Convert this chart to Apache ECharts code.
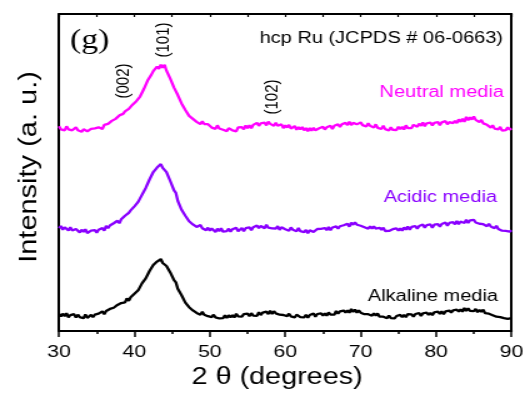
<!DOCTYPE html>
<html>
<head>
<meta charset="utf-8">
<script src="https://cdn.jsdelivr.net/npm/echarts@6/dist/echarts.min.js"></script>
<style>
  html, body { margin: 0; padding: 0; background: #fff; overflow: hidden; }
  /* the figure is laid out narrow and stretched sideways, like the published panel */
  #chart { width: 422.4px; height: 394px; transform: scaleX(1.25); transform-origin: 0 0; }
</style>
</head>
<body>
<div id="chart"></div>
<script>
// XRD patterns of hcp Ru after testing in three electrolytes (offset stacked, a.u.)
// one value every 0.25 degree of 2-theta, from 30 to 90
const angleStart = 30;
const angleStep = 0.25;

const neutral = [
  206, 203, 204.5, 202, 206, 203, 204.5, 202, 203.5, 205,
  202, 203.8, 200.5, 203, 204, 201, 200, 203.5, 202, 204,
  202, 205, 203.5, 203.3, 207.5, 205.5, 208.5, 206.8, 211.5, 211.2,
  213.5, 212.3, 217, 215.5, 218.5, 221, 219, 223.5, 223.5, 227.8,
  226.5, 231.3, 230.5, 236, 236, 243.5, 245.5, 252, 253, 258,
  261.5, 261, 266, 263.7, 268, 265, 268, 262, 261, 254,
  252, 245, 244, 237.5, 236.5, 229, 228, 222.5, 222, 216.5,
  216.5, 213.5, 215, 210.5, 212, 208.2, 211, 208.3, 206.5, 208.2,
  208, 204.7, 206.5, 203.5, 207, 203.8, 205.5, 202.5, 204, 201.2,
  204, 205.2, 202, 203.7, 201, 205, 203.5, 205.2, 203, 206.8,
  204, 207, 204, 207.5, 206.5, 209.5, 206.5, 209, 207, 209.7,
  207, 210.8, 208.5, 209.8, 206.5, 209.5, 206.5, 207.5, 208, 204.2,
  207, 204.8, 207.5, 203.7, 205, 206.3, 202.5, 205.2, 203, 205.3,
  202, 204.2, 201, 204.3, 201.5, 204.5, 202, 201.3, 204, 202.2,
  205.5, 202.8, 205, 203, 206.5, 203.2, 206.5, 205.3, 208, 205.5,
  208, 206, 209.5, 207.2, 210.5, 207.3, 209.5, 210.5, 208, 206.8,
  210, 207.2, 209, 205.8, 209, 206.5, 207.5, 204.7, 208, 204.5,
  206, 203.3, 206.5, 203.2, 204, 201.8, 205, 202.5, 204.5, 202.3,
  205.5, 203.2, 205.5, 202.8, 207, 204.2, 206, 204.3, 207.5, 206,
  205.5, 208.7, 206.5, 209.8, 206, 209, 207.5, 209.7, 207, 209.5,
  207.5, 210.3, 207, 210, 208.5, 211.2, 208, 210.3, 211.5, 209.2,
  211.5, 209.3, 213, 210.5, 213.5, 210.5, 215.5, 212.2, 215, 212.8,
  216, 212.5, 214.5, 210.2, 212.5, 209, 210.5, 207.5, 209, 204.8,
  207, 203.7, 205.5, 203, 205.5, 201.7, 203.5, 202.2, 205, 202.8,
  204
];

const acidic = [
  103.5, 105.7, 102, 104.5, 103.5, 101.3, 104.5, 101.2, 99.5, 102.8,
  103, 99.2, 102, 99.8, 102.5, 98.7, 97.5, 101, 99.5, 101.5,
  99, 102, 100.5, 103.7, 101, 105.8, 103.5, 106.2, 105.5, 108.5,
  107, 111, 108.5, 112.5, 112.5, 116, 114, 119, 121.5, 121,
  125.5, 125.5, 130, 130, 137, 138, 144, 145.5, 152.5, 153.5,
  160, 159, 164.5, 163.5, 168, 164.2, 166, 160, 159, 151,
  149.5, 141.5, 139, 131, 129, 122, 121.5, 116, 115, 110.5,
  111, 107.3, 109, 104.8, 106.5, 106.7, 103.5, 105, 101.5, 104,
  101, 103.2, 101.5, 99.8, 103, 100.5, 103.5, 100, 102, 100.5,
  103, 100, 102.5, 100.8, 104, 100.5, 101.5, 103.7, 100.5, 103.5,
  101.5, 104.3, 101.5, 104.5, 103.5, 106.2, 103.5, 105.8, 106.5, 103.5,
  107, 104, 106, 103.3, 105, 103.2, 105.5, 101.8, 104.5, 103,
  102.5, 104.2, 101, 104.3, 102, 103.2, 100.5, 103.8, 100.5, 101.7,
  99.5, 101.8, 98.5, 101.5, 102, 99.8, 99, 102.7, 101, 102.8,
  101, 103.7, 101.5, 104.8, 101.5, 104.2, 103, 105.3, 103, 105.5,
  103.5, 106.5, 105, 108, 105, 109.2, 107, 109.3, 107, 108.5,
  106, 108, 104.5, 106, 103, 105.5, 103, 105.3, 103, 101.7,
  104, 101.8, 104, 100.7, 102.5, 100.8, 99, 102.5, 101, 103.3,
  101, 103.2, 101, 104.3, 102, 105.2, 102, 104.8, 103.5, 105.7,
  103, 105.8, 104, 107.2, 104, 106.5, 105, 107.3, 104, 107,
  105, 107.7, 105, 107.8, 106.5, 109.2, 106, 108.8, 107, 109.7,
  107.5, 110.8, 107.5, 110.2, 111, 108.8, 112, 108.7, 111.5, 109.5,
  112, 109.2, 111, 108, 110, 107.5, 109.5, 105.5, 108, 105.2,
  106.5, 103.5, 106, 102.8, 104, 101, 102.5, 100.8, 102.5, 100,
  101.5
];

const alkaline = [
  17.5, 14.7, 17.5, 15, 18, 13.8, 16, 14.5, 17, 13.7,
  16.5, 14, 16, 12.9, 16.8, 13.3, 14.2, 16.3, 14, 16.5,
  14.5, 17.5, 16, 19.8, 17, 20.2, 19.5, 22.3, 20.5, 23.5,
  22.5, 26.3, 24.5, 28.2, 29, 28.8, 33, 30.5, 34, 33.5,
  37.5, 37, 41, 41.5, 48, 48, 53, 54, 60.5, 61,
  66.5, 65.5, 70, 68, 72.5, 68.5, 70, 65.5, 65, 59,
  58, 51.2, 49, 42.7, 42.5, 36, 34.5, 28.7, 28.5, 24,
  24, 20.8, 22, 18.3, 20, 16.5, 19.5, 16.5, 18, 15,
  17, 14, 16.5, 13.8, 15.5, 12.7, 14.5, 13, 16, 13.2,
  16, 13.8, 16, 13.7, 17.5, 14.8, 16.5, 14.5, 17, 15.7,
  17.5, 15, 18, 15.5, 17, 15.3, 19, 16.2, 18.5, 16.8,
  19.5, 17.2, 20.5, 17.3, 20, 17.8, 19.5, 16.5, 18, 16.2,
  18, 15, 17.5, 14.8, 16.5, 13.7, 16.5, 14.5, 14, 15.9,
  13.8, 16.4, 13.5, 16.2, 14.5, 17.8, 14.5, 17.2, 15.8, 17.9,
  15.5, 17.8, 15.5, 18.7, 16.5, 18.3, 16.5, 20.2, 17.5, 19.8,
  18, 20.7, 18.5, 20.8, 18.5, 22.2, 19.3, 21.7, 18.5, 20.8,
  18.5, 20.5, 17, 19, 17, 18.2, 15.5, 17.8, 15.5, 17.7,
  14.5, 16.5, 14.5, 15.8, 13, 15.7, 13, 14.4, 12.8, 15.2,
  13.5, 16.3, 14, 16.2, 14, 17.1, 15.3, 16.9, 14.5, 17.2,
  15.5, 18.1, 15.3, 17.9, 16.5, 18.7, 16.3, 18.4, 16, 18.8,
  17, 19.7, 17.3, 19.9, 17, 19.8, 18.5, 20.7, 18.5, 20.8,
  19, 21.7, 19.5, 21.8, 19.5, 23.2, 20.3, 22.8, 20.3, 22.2,
  20, 22.3, 19, 21.4, 19.3, 21.5, 18, 20, 17.5, 18.3,
  16, 17.5, 14.5, 16.5, 14, 16, 13, 14.2, 12.3, 14.2,
  13
];

const seriesNames = ['Neutral media', 'Acidic media', 'Alkaline media'];
const seriesColors = ['#ff00ff', '#8a00ff', '#000000'];
const peakLabels = ['(002)', '(101)', '(102)'];
const panelLabel = '(g)';
const phaseLabel = 'hcp Ru (JCPDS # 06-0663)';
const yTitle = 'Intensity (a. u.)';
const xTitle = '2 \u03b8 (degrees)';

const sans = '"Liberation Sans", Arial, sans-serif';
const serif = '"Liberation Serif", "Times New Roman", serif';

function pairs(values) {
  return values.map((v, i) => [angleStart + i * angleStep, v]);
}

const chart = echarts.init(document.getElementById('chart'), null, { renderer: 'canvas' });

const lineSeries = [neutral, acidic, alkaline].map((vals, k) => ({
  name: seriesNames[k],
  type: 'line',
  data: pairs(vals),
  showSymbol: false,
  smooth: false,
  animation: false,
  lineStyle: { color: seriesColors[k], width: 2.3 },
  z: 3
}));

function text(x, y, str, style, extra) {
  return Object.assign({
    type: 'text',
    x: x, y: y,
    style: Object.assign({
      text: str,
      fill: '#000',
      fontFamily: sans,
      fontSize: 16,
      fontWeight: 'normal',
      textAlign: 'left',
      textVerticalAlign: 'middle'
    }, style || {})
  }, extra || {});
}

chart.setOption({
  backgroundColor: '#fff',
  animation: false,
  grid: { left: 47.2, right: 12.8, top: 14, bottom: 61 },
  xAxis: [
    {
      type: 'value', min: 30, max: 90, interval: 10, position: 'bottom',
      name: xTitle, nameLocation: 'middle', nameGap: 31,
      nameTextStyle: { fontFamily: sans, fontSize: 23, color: '#000', padding: [0, 13, 0, 0] },
      axisLine: { show: true, onZero: false, lineStyle: { color: '#000', width: 2 } },
      axisTick: { show: true, inside: false, length: 6, lineStyle: { color: '#000', width: 1.5 } },
      minorTick: { show: true, splitNumber: 2, length: 3, lineStyle: { color: '#000', width: 1.5 } },
      axisLabel: { fontFamily: sans, fontSize: 17, color: '#000', margin: 13 },
      splitLine: { show: false }
    },
    {
      type: 'value', min: 30, max: 90, interval: 5, position: 'top',
      axisLine: { show: true, onZero: false, lineStyle: { color: '#000', width: 2 } },
      axisTick: { show: true, inside: true, length: 3, lineStyle: { color: '#000', width: 1.2 } },
      axisLabel: { show: false },
      splitLine: { show: false }
    }
  ],
  yAxis: [
    {
      type: 'value', min: 0, max: 319, position: 'left',
      axisLine: { show: true, onZero: false, lineStyle: { color: '#000', width: 2 } },
      axisTick: { show: false },
      axisLabel: { show: false },
      splitLine: { show: false }
    },
    {
      type: 'value', min: 0, max: 319, position: 'right',
      axisLine: { show: true, onZero: false, lineStyle: { color: '#000', width: 2 } },
      axisTick: { show: false },
      axisLabel: { show: false },
      splitLine: { show: false }
    }
  ],
  series: lineSeries,
  graphic: [
    // tall, narrow vertical title beside the left axis
    text(23.6, 167, yTitle, { textAlign: 'center', fontSize: 21 }, { rotation: Math.PI / 2, scaleX: 1.38 }),
    text(56, 41, panelLabel, { fontFamily: serif, fontSize: 27 }),
    text(402.4, 38.5, phaseLabel, { textAlign: 'right' }),
    text(403.2, 93, seriesNames[0], { textAlign: 'right', fill: seriesColors[0] }),
    text(397.6, 198, seriesNames[1], { textAlign: 'right', fill: seriesColors[1] }),
    text(398.4, 296.5, seriesNames[2], { textAlign: 'right', fill: seriesColors[2] }),
    text(99.2, 81, peakLabels[0], { textAlign: 'center', fontSize: 15 }, { rotation: Math.PI / 2 }),
    text(130.6, 40, peakLabels[1], { textAlign: 'center', fontSize: 15 }, { rotation: Math.PI / 2 }),
    text(217.6, 97, peakLabels[2], { textAlign: 'center', fontSize: 15 }, { rotation: Math.PI / 2 })
  ]
});
</script>
</body>
</html>
